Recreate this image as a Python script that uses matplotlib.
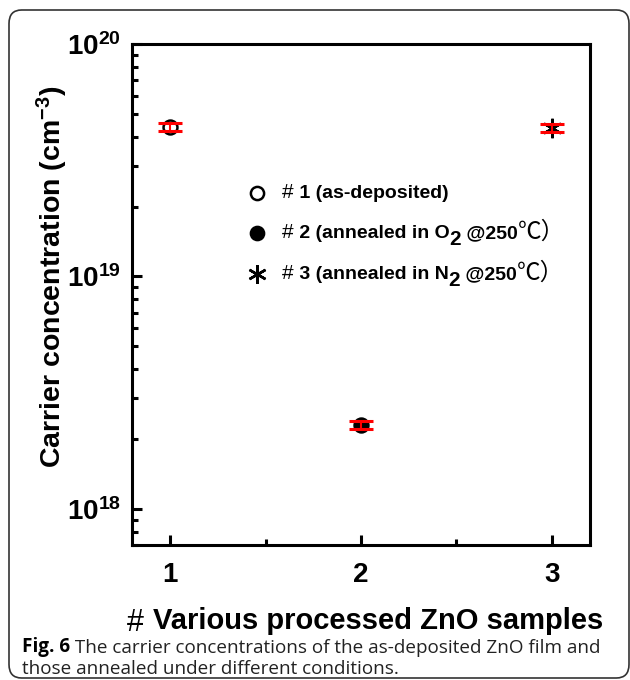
import matplotlib
matplotlib.use("Agg")
import matplotlib.pyplot as plt
from matplotlib.patches import FancyBboxPatch
from matplotlib.ticker import LogLocator, FixedLocator, NullFormatter, FixedFormatter

plt.rcParams['mathtext.fontset'] = 'custom'
plt.rcParams['mathtext.bf'] = 'Liberation Sans:bold'
plt.rcParams['mathtext.rm'] = 'Liberation Sans:bold'
plt.rcParams['mathtext.it'] = 'Liberation Sans:bold'
plt.rcParams['font.family'] = ['Liberation Sans', 'Noto Sans CJK SC', 'DejaVu Sans']

# ---- data ----
samples = [1, 2, 3]
concentration = [4.4e19, 2.3e18, 4.35e19]
errors = [1.8e18, 1.0e17, 1.8e18]
sample_ticks = [1, 2, 3]
sample_tick_labels = ['1', '2', '3']
y_ticks = [1e18, 1e19, 1e20]
y_tick_labels = [r'$\mathbf{10^{18}}$', r'$\mathbf{10^{19}}$', r'$\mathbf{10^{20}}$']
legend_ids = ['1', '2', '3']
legend_main = [' (as-deposited)', ' (annealed in O', ' (annealed in N']
legend_has_sub = [False, True, True]

fig = plt.figure(figsize=(6.3, 6.8), dpi=100)
ax = fig.add_axes([132/630, 1-545/680, 458/630, 501/680])

styles = [
    dict(marker='o', mfc='white', mec='black', ms=10, mew=1.8),
    dict(marker='o', mfc='black', mec='black', ms=10, mew=1.8),
    dict(marker=(6, 2, 0), mfc='black', mec='black', ms=14, mew=1.8),
]
for x, y, e, st in zip(samples, concentration, errors, styles):
    ax.plot([x], [y], linestyle='none', zorder=3, **st)
    ax.errorbar([x], [y], yerr=[e], fmt='none', ecolor='red', elinewidth=1.5,
                capsize=8.5, capthick=2.2, zorder=4)

ax.set_yscale('log')
ax.set_ylim(7.0e17, 1e20)
ax.set_xlim(0.8, 3.2)

ax.yaxis.set_major_locator(FixedLocator(y_ticks))
ax.yaxis.set_major_formatter(FixedFormatter(y_tick_labels))
ax.yaxis.set_minor_locator(LogLocator(base=10, subs=range(2, 10)))
ax.yaxis.set_minor_formatter(NullFormatter())
ax.xaxis.set_major_locator(FixedLocator(sample_ticks))
ax.xaxis.set_major_formatter(FixedFormatter(sample_tick_labels))
ax.xaxis.set_minor_locator(FixedLocator([1.5, 2.5]))

ax.tick_params(axis='both', which='both', direction='in', top=False, right=False, width=2.2)
ax.tick_params(axis='both', which='major', length=7)
ax.tick_params(axis='both', which='minor', length=4)
ax.tick_params(axis='x', which='major', pad=12, labelsize=20)
ax.tick_params(axis='y', which='major', pad=8, labelsize=20)
for lab in ax.get_xticklabels():
    lab.set_fontweight('bold')
for sp in ax.spines.values():
    sp.set_linewidth(2.2)

ax.set_ylabel(r'Carrier concentration (cm$^{\mathbf{-3}}$)', fontsize=20.5, fontweight='bold')
ax.yaxis.set_label_coords(-0.136, 0.535)

# x label: thin "#" followed by bold text
xl = ax.set_xlabel('Various processed ZnO samples', fontsize=21, fontweight='bold')
ax.xaxis.set_label_coords(0.538, -0.124)
ax.annotate('# ', xy=(0, 0), xycoords=xl, xytext=(-1, -2), textcoords='offset points',
            fontsize=22, va='bottom', ha='right', annotation_clip=False)

# ---- legend (manual) ----
row_y = [0.7026, 0.6228, 0.541]
mx, tx = 0.273, 0.3275
fs = 14
for i in range(3):
    ax.plot([mx], [row_y[i]], transform=ax.transAxes, linestyle='none', clip_on=False,
            **{**styles[i], 'ms': styles[i]['ms'] * 0.95})
    t = ax.text(tx, row_y[i], '#', transform=ax.transAxes, fontsize=fs + 1,
                va='center', ha='left', family=['Liberation Sans'])
    t = ax.annotate(' ' + legend_ids[i] + legend_main[i], xy=(1, 0), xycoords=t,
                    fontsize=fs, fontweight='bold', va='bottom', ha='left')
    if legend_has_sub[i]:
        t = ax.annotate('2', xy=(1, 0), xycoords=t, xytext=(0, -5), textcoords='offset points',
                        fontsize=fs + 1, fontweight='bold', va='bottom', ha='left')
        t = ax.annotate(' @250', xy=(1, 0), xycoords=t, xytext=(0, 5), textcoords='offset points',
                        fontsize=fs, fontweight='bold', va='bottom', ha='left')
        ax.annotate('\u2103\uff09', xy=(1, 0), xycoords=t, xytext=(0, -1), textcoords='offset points',
                    fontsize=fs + 3, fontweight='light', va='bottom', ha='left',
                    family=['Noto Sans CJK SC', 'DejaVu Sans'])

# ---- outer frame and caption ----
frame = FancyBboxPatch((9/630, 1-678/680), 620/630, 668/680,
                       boxstyle='round,pad=0,rounding_size=0.02',
                       transform=fig.transFigure, fill=False, ec='#333333', lw=1.2)
fig.patches.append(frame)

cfs = 13.6
c = fig.text(22/630, 1-647/680, 'Fig. 6', fontsize=cfs, fontweight='bold',
             family=['Open Sans'], va='center', ha='left')
ax.annotate(' The carrier concentrations of the as-deposited ZnO film and', xy=(1, 0),
            xycoords=c, fontsize=cfs, family=['Open Sans'], va='bottom', ha='left',
            color='#222222', annotation_clip=False)
fig.text(22/630, 1-669/680, 'those annealed under different conditions.', fontsize=cfs,
         family=['Open Sans'], va='center', ha='left', color='#222222')

fig.savefig('out.png', dpi=100)
